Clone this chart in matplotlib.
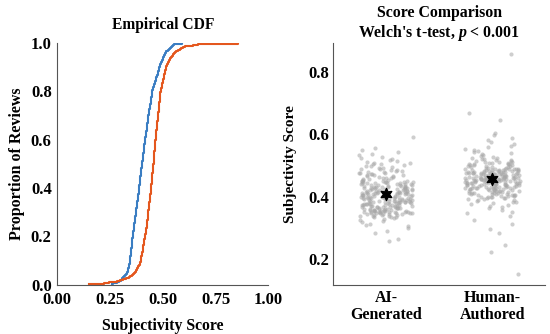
import numpy as np
import pandas as pd
import matplotlib
matplotlib.use("Agg")
import matplotlib.pyplot as plt
import seaborn as sns

# subjectivity scores (estimated)
ai_scores = [
    0.258, 0.265, 0.282, 0.291, 0.300, 0.305, 0.309, 0.313, 0.317, 0.321, 0.325, 0.329, 0.331,
    0.333, 0.335, 0.336, 0.337, 0.338, 0.339, 0.340, 0.341, 0.342, 0.343, 0.344, 0.345,
    0.345, 0.346, 0.346, 0.347, 0.347, 0.348, 0.348, 0.349, 0.349, 0.350, 0.350, 0.351, 0.351,
    0.352, 0.352, 0.353, 0.353, 0.354, 0.354, 0.355, 0.355, 0.356, 0.356, 0.357, 0.358,
    0.358, 0.359, 0.359, 0.360, 0.361, 0.361, 0.362, 0.363, 0.363, 0.364, 0.364, 0.365, 0.366,
    0.366, 0.367, 0.367, 0.368, 0.369, 0.369, 0.370, 0.370, 0.371, 0.372, 0.372, 0.373,
    0.373, 0.374, 0.375, 0.375, 0.376, 0.376, 0.377, 0.378, 0.378, 0.379, 0.379, 0.380, 0.381,
    0.381, 0.382, 0.382, 0.383, 0.383, 0.384, 0.385, 0.385, 0.386, 0.386, 0.387, 0.387,
    0.388, 0.388, 0.389, 0.390, 0.390, 0.391, 0.391, 0.392, 0.392, 0.393, 0.394, 0.394, 0.395,
    0.395, 0.396, 0.396, 0.397, 0.398, 0.398, 0.399, 0.399, 0.400, 0.400, 0.401, 0.401,
    0.402, 0.403, 0.403, 0.404, 0.404, 0.405, 0.406, 0.406, 0.407, 0.407, 0.408, 0.409, 0.409,
    0.410, 0.410, 0.411, 0.412, 0.412, 0.413, 0.413, 0.414, 0.414, 0.415, 0.415, 0.416,
    0.417, 0.417, 0.418, 0.419, 0.419, 0.420, 0.421, 0.421, 0.422, 0.423, 0.423, 0.424, 0.424,
    0.425, 0.426, 0.426, 0.427, 0.428, 0.428, 0.429, 0.430, 0.430, 0.431, 0.431, 0.432,
    0.433, 0.434, 0.434, 0.435, 0.436, 0.437, 0.437, 0.438, 0.439, 0.440, 0.440, 0.441, 0.442,
    0.443, 0.443, 0.444, 0.445, 0.446, 0.446, 0.447, 0.448, 0.448, 0.449, 0.450, 0.450,
    0.451, 0.452, 0.454, 0.455, 0.456, 0.458, 0.459, 0.461, 0.462, 0.463, 0.465, 0.466, 0.468,
    0.469, 0.470, 0.472, 0.473, 0.475, 0.476, 0.477, 0.479, 0.480, 0.481, 0.483, 0.484,
    0.485, 0.487, 0.489, 0.491, 0.493, 0.495, 0.497, 0.499, 0.501, 0.503, 0.505, 0.507, 0.509,
    0.511, 0.514, 0.517, 0.520, 0.524, 0.528, 0.533, 0.538, 0.543, 0.548, 0.555, 0.590,
]
human_scores = [
    0.152, 0.222, 0.244, 0.282, 0.296, 0.312, 0.326, 0.338, 0.346, 0.352, 0.358, 0.363, 0.367,
    0.371, 0.374, 0.377, 0.380, 0.382, 0.384, 0.386, 0.388, 0.390, 0.392, 0.393, 0.395,
    0.396, 0.397, 0.398, 0.399, 0.399, 0.400, 0.401, 0.402, 0.403, 0.404, 0.404, 0.405, 0.406,
    0.407, 0.408, 0.408, 0.409, 0.410, 0.411, 0.412, 0.412, 0.413, 0.414, 0.415, 0.416,
    0.417, 0.417, 0.418, 0.419, 0.419, 0.420, 0.421, 0.421, 0.422, 0.423, 0.423, 0.424, 0.424,
    0.425, 0.426, 0.426, 0.427, 0.428, 0.428, 0.429, 0.429, 0.430, 0.430, 0.431, 0.431,
    0.432, 0.432, 0.433, 0.433, 0.434, 0.435, 0.435, 0.436, 0.436, 0.437, 0.437, 0.438, 0.438,
    0.439, 0.439, 0.440, 0.440, 0.441, 0.441, 0.442, 0.442, 0.443, 0.443, 0.444, 0.444,
    0.445, 0.445, 0.446, 0.446, 0.447, 0.447, 0.448, 0.448, 0.448, 0.449, 0.449, 0.450, 0.450,
    0.451, 0.451, 0.451, 0.452, 0.452, 0.453, 0.453, 0.453, 0.454, 0.454, 0.455, 0.455,
    0.456, 0.456, 0.456, 0.457, 0.457, 0.458, 0.458, 0.458, 0.459, 0.459, 0.460, 0.460, 0.460,
    0.461, 0.461, 0.462, 0.462, 0.462, 0.463, 0.463, 0.463, 0.464, 0.464, 0.465, 0.465,
    0.466, 0.466, 0.467, 0.467, 0.468, 0.468, 0.469, 0.469, 0.470, 0.470, 0.471, 0.471, 0.472,
    0.472, 0.472, 0.473, 0.473, 0.474, 0.474, 0.475, 0.475, 0.476, 0.476, 0.477, 0.477,
    0.478, 0.478, 0.479, 0.479, 0.480, 0.480, 0.481, 0.481, 0.482, 0.482, 0.483, 0.483, 0.484,
    0.484, 0.485, 0.485, 0.486, 0.486, 0.487, 0.487, 0.488, 0.488, 0.489, 0.489, 0.490,
    0.491, 0.492, 0.493, 0.494, 0.495, 0.496, 0.497, 0.498, 0.499, 0.500, 0.501, 0.502, 0.503,
    0.504, 0.505, 0.506, 0.507, 0.508, 0.509, 0.510, 0.511, 0.512, 0.513, 0.515, 0.516,
    0.517, 0.519, 0.521, 0.523, 0.525, 0.527, 0.530, 0.533, 0.536, 0.539, 0.542, 0.546, 0.550,
    0.554, 0.558, 0.563, 0.568, 0.574, 0.580, 0.588, 0.596, 0.605, 0.645, 0.667, 0.858,
]
groups = ["AI-Generated", "Human-Authored"]
group_labels = ["AI-\nGenerated", "Human-\nAuthored"]
cdf_colors = ["#3a7dc2", "#e4571e"]

plt.rcParams["font.family"] = ["Liberation Serif", "DejaVu Serif"]
plt.rcParams["font.weight"] = "bold"
plt.rcParams["mathtext.fontset"] = "custom"
plt.rcParams["mathtext.it"] = "Liberation Serif:italic:bold"
plt.rcParams["mathtext.rm"] = "Liberation Serif:bold"

fig = plt.figure(figsize=(5.5, 3.34), dpi=100)
ax1 = fig.add_axes([0.104, 0.147, 0.384, 0.725])
ax2 = fig.add_axes([0.606, 0.147, 0.385, 0.725])

# empirical CDF
for vals, col in zip([ai_scores, human_scores], cdf_colors):
    xs = np.sort(vals)
    ys = np.arange(1, len(xs) + 1) / len(xs)
    ax1.plot(xs, ys, drawstyle="steps-post", color=col, linewidth=1.5)
ax1.set_xlim(0, 1)
ax1.set_ylim(0, 1)
ax1.set_xticks([0, 0.25, 0.5, 0.75, 1.0])
ax1.set_xticklabels(["0.00", "0.25", "0.50", "0.75", "1.00"])
ax1.set_yticks([0, 0.2, 0.4, 0.6, 0.8, 1.0])
ax1.set_title("Empirical CDF", fontsize=11.2, fontweight="bold", pad=10)
ax1.set_xlabel("Subjectivity Score", fontsize=11.3, fontweight="bold", labelpad=7)
ax1.set_ylabel("Proportion of Reviews", fontsize=11.5, fontweight="bold", labelpad=4)

# strip plot with means
df = pd.DataFrame({
    "group": [groups[0]] * len(ai_scores) + [groups[1]] * len(human_scores),
    "score": ai_scores + human_scores,
})
np.random.seed(3)
sns.stripplot(data=df, x="group", y="score", ax=ax2, color="#a6a6a6", alpha=0.55,
              size=3.0, jitter=0.26, linewidth=0, order=groups)
means = df.groupby("group")["score"].mean().reindex(groups)
ax2.scatter(range(len(groups)), means.values, marker=(6, 1, 0), s=75, color="black", zorder=5)
ax2.set_xlim(-0.5, 1.5)
ax2.set_yticks([0.2, 0.4, 0.6, 0.8])
ax2.set_xticks(range(len(groups)))
ax2.set_xticklabels(group_labels, linespacing=1.05)
ax2.set_xlabel("")
ax2.set_ylabel("Subjectivity Score", fontsize=11, fontweight="bold", labelpad=8)
ax2.set_title("Score Comparison\nWelch's t-test, $p$ < 0.001", fontsize=11.4,
              fontweight="bold", pad=4, linespacing=1.15)

for ax in (ax1, ax2):
    for s in ("top", "right"):
        ax.spines[s].set_visible(False)
    for s in ("left", "bottom"):
        ax.spines[s].set_color("#555555")
        ax.spines[s].set_linewidth(0.8)
    ax.tick_params(length=0, pad=3, labelsize=12)
    for lab in ax.get_xticklabels() + ax.get_yticklabels():
        lab.set_fontweight("bold")
ax1.tick_params(axis="x", pad=5)
ax1.tick_params(axis="y", pad=4)
ax2.tick_params(axis="x", pad=4, labelsize=11.5)

fig.savefig("out.png", dpi=100)
